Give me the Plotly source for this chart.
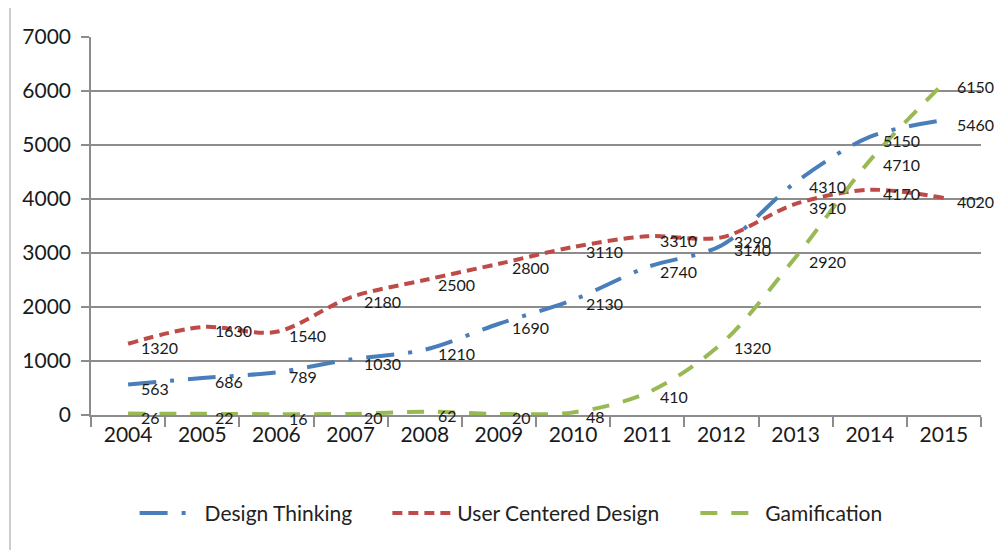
import plotly.graph_objects as go

years = ["2004", "2005", "2006", "2007", "2008", "2009",
         "2010", "2011", "2012", "2013", "2014", "2015"]
design_thinking = [563, 686, 789, 1030, 1210, 1690, 2130, 2740, 3140, 4310, 5150, 5460]
user_centered = [1320, 1630, 1540, 2180, 2500, 2800, 3110, 3310, 3290, 3910, 4170, 4020]
gamification = [26, 22, 16, 20, 62, 20, 48, 410, 1320, 2920, 4710, 6150]

FONT = "Lato, Noto Sans, sans-serif"

series = [
    ("Design Thinking", design_thinking, "#4A7EBB", "28px,14px,4px,14px", "legend", 0.049),
    ("User Centered Design", user_centered, "#BE4B48", "10px,6px", "legend2", 0.333),
    ("Gamification", gamification, "#98B954", "17px,14px", "legend3", 0.679),
]

fig = go.Figure()
annotations = []
legends = {}
for name, vals, color, dash, leg, legx in series:
    fig.add_trace(go.Scatter(
        x=years,
        y=vals,
        name=name,
        mode="lines",
        legend=leg,
        line=dict(color=color, width=4, dash=dash, shape="spline", smoothing=0.9),
    ))
    legends[leg] = dict(
        orientation="h",
        x=legx, xanchor="left",
        y=-0.26, yanchor="middle",
        font=dict(family=FONT, size=21, color="#222222"),
        itemwidth=60,
        bgcolor="rgba(0,0,0,0)",
    )
    # data labels to the right of each point (Excel style)
    for i, v in enumerate(vals):
        annotations.append(dict(
            x=i, y=v, xref="x", yref="y",
            text=str(v), showarrow=False,
            xanchor="left", yanchor="middle",
            xshift=11, yshift=-4,
            font=dict(family=FONT, size=16, color="#1a1a1a"),
        ))

# the page adds an 8px body margin, so size and margins compensate for it
fig.update_layout(
    width=994,
    height=542,
    margin=dict(l=83, r=21, t=29, b=135, autoexpand=False),
    paper_bgcolor="white",
    plot_bgcolor="white",
    font=dict(family=FONT, size=21, color="#1a1a1a"),
    showlegend=True,
    xaxis=dict(
        type="category",
        range=[-0.5, 11.5],
        showgrid=False,
        showline=True,
        linecolor="#8C8C8C",
        linewidth=1.5,
        ticks="outside",
        tickson="boundaries",
        ticklen=10,
        tickcolor="#8C8C8C",
        tickwidth=1.5,
        automargin=False,
        tickfont=dict(family=FONT, size=21, color="#1a1a1a"),
    ),
    yaxis=dict(
        range=[0, 7000],
        dtick=1000,
        showgrid=True,
        gridcolor="#8C8C8C",
        gridwidth=1.5,
        showline=True,
        linecolor="#8C8C8C",
        linewidth=1.5,
        ticks="outside",
        ticklen=8,
        tickcolor="#8C8C8C",
        tickwidth=1.5,
        ticklabelstandoff=6,
        zeroline=False,
        automargin=False,
        tickfont=dict(family=FONT, size=21, color="#1a1a1a"),
    ),
    annotations=annotations,
    shapes=[
        dict(type="line", xref="paper", yref="paper",
             x0=(10 - 91) / 890, x1=(1010 - 91) / 890,
             y0=(415 - 7) / 378, y1=(415 - 7) / 378,
             line=dict(color="#BBBBBB", width=1.5)),
        dict(type="line", xref="paper", yref="paper",
             x0=(10 - 91) / 890, x1=(10 - 91) / 890,
             y0=(415 - 7) / 378, y1=(415 - 560) / 378,
             line=dict(color="#BBBBBB", width=1.5)),
    ],
    **legends,
)

fig.write_html("out.html")
